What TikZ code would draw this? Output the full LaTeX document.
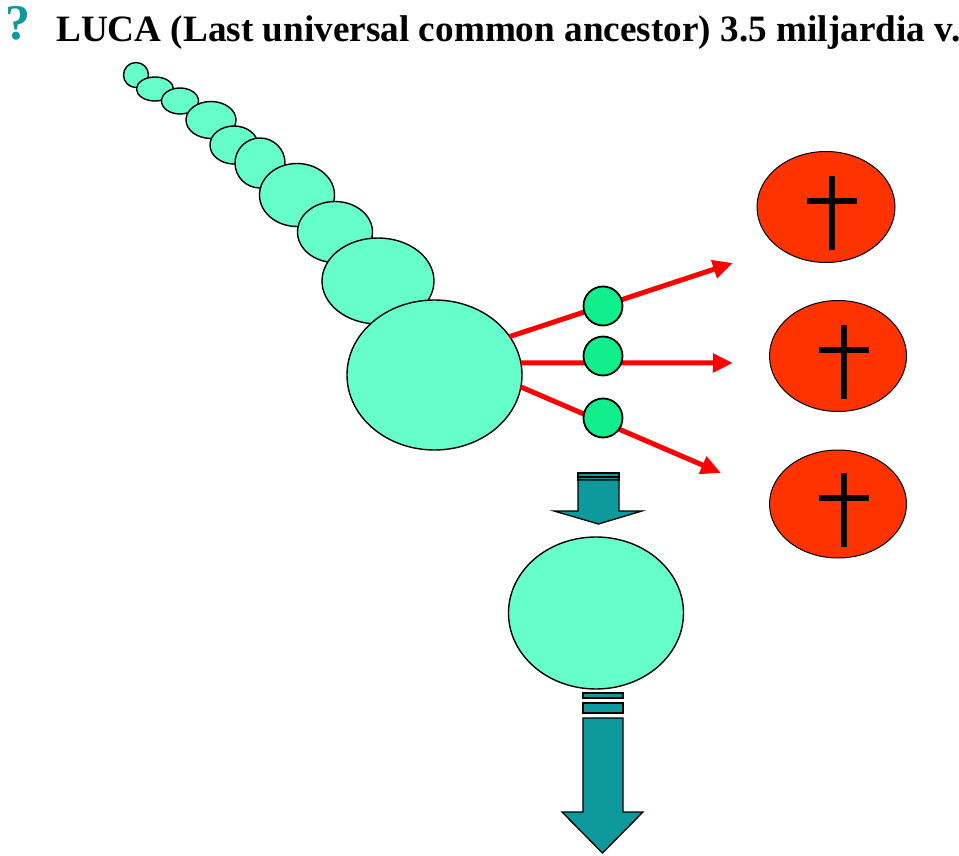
\documentclass[tikz,border=0pt]{standalone}
\usepackage{fontspec}
\setmainfont{Liberation Serif}
\usetikzlibrary{arrows.meta, shapes.geometric}
\definecolor{lcInk}{HTML}{000000}
\definecolor{lcMint}{HTML}{66FFCC}
\definecolor{lcGreen}{HTML}{11EE8C}
\definecolor{lcRed}{HTML}{FF3300}
\definecolor{lcLine}{HTML}{FF0000}
\definecolor{lcTeal}{HTML}{0E9A9C}
\tikzset{
  cell/.style={
    ellipse, draw=lcInk, line width=1.4pt, fill=lcMint,
    inner sep=0pt
  },
  bud/.style={cell, circle, fill=lcGreen, minimum size=39pt, line width=1.8pt},
  doom/.style={cell, fill=lcRed, line width=1pt},
  branch/.style={-{Triangle[length=20pt, width=18pt]}, line width=5pt, draw=lcLine},
  bigarrow/.style={draw=lcInk, line width=1.3pt, fill=lcTeal, line join=miter},
  grave/.style={line width=5.5pt, draw=lcInk},
}

\begin{document}
\begin{tikzpicture}[x=1pt, y=-1pt]
  \useasboundingbox (0,0) rectangle (959,856);

  % title
  \node[anchor=base west, inner sep=0pt, text=lcTeal, font=\fontsize{50}{56}\selectfont\bfseries] (qmark) at (5,40) {?};
  \node[anchor=base west, inner sep=0pt, font=\fontsize{37.2}{44}\selectfont\bfseries] (title) at (56,42)
    {LUCA (Last universal common ancestor) 3.5 miljardia v.};

  % the chain of ancestors
  \node[cell, minimum width=25pt, minimum height=25pt] (a1) at (136,75) {};
  \node[cell, minimum width=37pt, minimum height=24pt] (a2) at (155,89) {};
  \node[cell, minimum width=37pt, minimum height=26pt] (a3) at (180,101) {};
  \node[cell, minimum width=50pt, minimum height=37pt] (a4) at (211,120) {};
  \node[cell, minimum width=48pt, minimum height=38pt] (a5) at (234,145) {};
  \node[cell, minimum width=50pt, minimum height=50pt] (a6) at (260,163) {};
  \node[cell, minimum width=75pt, minimum height=63pt] (a7) at (297,195) {};
  \node[cell, minimum width=75pt, minimum height=61pt] (a8) at (335,232) {};
  \node[cell, minimum width=112pt, minimum height=86pt] (a9) at (378,281) {};
  \node[cell, minimum width=175pt, minimum height=150pt] (luca) at (434.5,375) {};

  % branches that died out
  \coordinate (t1) at (733,263);
  \coordinate (t2) at (733,363);
  \coordinate (t3) at (721,473);
  \draw[branch, shorten <=-1pt] (luca.27) -- (t1);
  \draw[branch, shorten <=-1pt] (luca.8) -- (t2);
  \draw[branch, shorten <=-1pt] (luca.-8) -- (t3);
  \node[bud] (b1) at (603,306) {};
  \node[bud] (b2) at (603,356) {};
  \node[bud] (b3) at (603,418) {};

  \node[doom, minimum width=138pt, minimum height=111pt] (d1) at (826,207) {};
  \node[doom, minimum width=137pt, minimum height=111pt] (d2) at (838,356) {};
  \node[doom, minimum width=137pt, minimum height=108pt] (d3) at (838,504) {};
  \foreach \d in {d1,d2,d3} {
    \draw[grave] ([shift={(6,-31)}]\d.center) -- ([shift={(6,43)}]\d.center);
    \draw[grave] ([shift={(-19,-6)}]\d.center) -- ([shift={(31,-6)}]\d.center);
  }

  % the line that went on
  \draw[bigarrow] (578,473) rectangle (619,476.5);
  \draw[bigarrow] (578,477.5) rectangle (619,480);
  \draw[bigarrow] (578,480) -- (578,511) -- (554,511) -- (598.5,524) -- (642,511)
    -- (619,511) -- (619,480) -- cycle;
  \node[cell, minimum width=175pt, minimum height=152pt] (next) at (596,613) {};
  \draw[bigarrow] (583,693) rectangle (623,698);
  \draw[bigarrow] (583,703) rectangle (623,713);
  \draw[bigarrow] (583,718) -- (583,812) -- (562,812) -- (602.5,853) -- (643,812)
    -- (623,812) -- (623,718) -- cycle;
\end{tikzpicture}
\end{document}
